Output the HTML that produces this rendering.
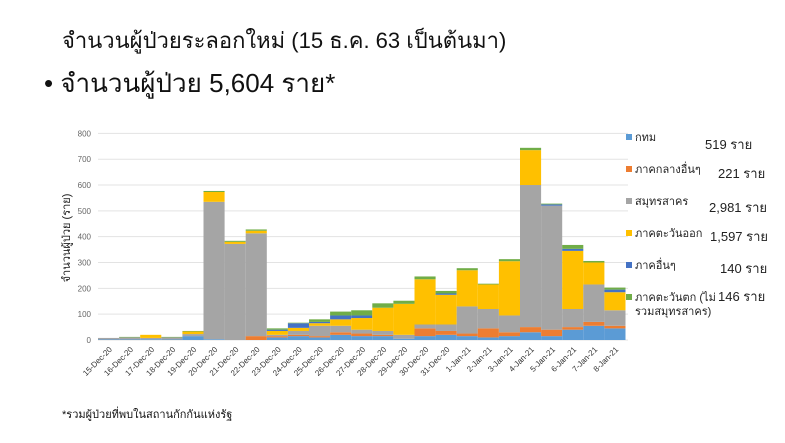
<!DOCTYPE html>
<html><head><meta charset="utf-8"><style>
body{margin:0;background:#fff;width:785px;height:438px;overflow:hidden;font-family:"Liberation Sans","DejaVu Sans",sans-serif;}
</style></head><body>
<svg id="s" width="785" height="438" xmlns="http://www.w3.org/2000/svg" font-family="Liberation Sans, DejaVu Sans, sans-serif">
<text x="62" y="48" font-size="22" fill="#111">จำนวนผู้ป่วยระลอกใหม่ (15 ธ.ค. 63 เป็นต้นมา)</text>
<text x="44" y="92" font-size="26" fill="#111">• จำนวนผู้ป่วย 5,604 ราย*</text>
<text transform="translate(70,238) rotate(-90)" font-size="11" fill="#222" text-anchor="middle">จำนวนผู้ป่วย (ราย)</text>
<text x="62" y="418" font-size="11" fill="#111">*รวมผู้ป่วยที่พบในสถานกักกันแห่งรัฐ</text>
<g id="g"></g>
<g font-size="11" fill="#222">
<rect x="626" y="134" width="6" height="6" fill="#5b9bd5"/><text x="635" y="141">กทม</text><text x="705" y="149" font-size="13">519 ราย</text>
<rect x="626" y="166" width="6" height="6" fill="#ed7d31"/><text x="635" y="173">ภาคกลางอื่นๆ</text><text x="718" y="178" font-size="13">221 ราย</text>
<rect x="626" y="198" width="6" height="6" fill="#a5a5a5"/><text x="635" y="205">สมุทรสาคร</text><text x="709" y="212" font-size="13">2,981 ราย</text>
<rect x="626" y="230" width="6" height="6" fill="#ffc000"/><text x="635" y="237">ภาคตะวันออก</text><text x="710" y="241" font-size="13">1,597 ราย</text>
<rect x="626" y="262" width="6" height="6" fill="#4472c4"/><text x="635" y="269">ภาคอื่นๆ</text><text x="720" y="273" font-size="13">140 ราย</text>
<rect x="626" y="294" width="6" height="6" fill="#70ad47"/><text x="635" y="301">ภาคตะวันตก (ไม่</text><text x="635" y="315">รวมสมุทรสาคร)</text><text x="718" y="301" font-size="13">146 ราย</text>
</g>
</svg>
<script>
var d=[[2,0,6,0,0,0],[2,0,8,0,0,2],[3,0,5,12,0,0],[2,0,8,0,0,2],[15,0,8,10,0,2],[3,0,532,38,0,4],[0,0,372,8,0,4],[0,15,398,10,0,5],[10,5,5,15,5,5],[15,5,15,12,18,2],[10,5,40,10,5,10],[20,10,25,25,15,15],[15,10,15,45,10,20],[15,5,15,90,0,17],[5,0,15,120,0,12],[15,30,15,175,0,11],[20,15,25,115,5,10],[15,10,105,140,0,8],[10,35,75,95,0,3],[15,15,65,210,0,8],[30,20,550,135,0,9],[15,25,480,0,5,3],[40,10,70,225,8,15],[55,15,145,85,0,6],[45,10,60,70,10,8]];
var c=["#5b9bd5","#ed7d31","#a5a5a5","#ffc000","#4472c4","#70ad47"];
var lab=["15-Dec-20","16-Dec-20","17-Dec-20","18-Dec-20","19-Dec-20","20-Dec-20","21-Dec-20","22-Dec-20","23-Dec-20","24-Dec-20","25-Dec-20","26-Dec-20","27-Dec-20","28-Dec-20","29-Dec-20","30-Dec-20","31-Dec-20","1-Jan-21","2-Jan-21","3-Jan-21","4-Jan-21","5-Jan-21","6-Jan-21","7-Jan-21","8-Jan-21"];
var h="",y0=340,k=0.2583,x0=98,w=21.1;
for(var i=0;i<=8;i++){var y=y0-i*100*k;h+='<line x1="98" x2="628" y1="'+y+'" y2="'+y+'" stroke="#e3e3e3"/><text x="91" y="'+(y+3)+'" font-size="8" fill="#666" text-anchor="end">'+(i*100)+'</text>';}
d.forEach(function(b,i){var y=y0,x=x0+i*w;b.forEach(function(v,j){if(!v)return;var hh=v*k;y-=hh;h+='<rect x="'+x+'" y="'+y+'" width="'+w+'" height="'+hh+'" fill="'+c[j]+'"/>';});
h+='<text transform="translate('+(x+w/2+4)+',350) rotate(-45)" font-size="8" fill="#333" text-anchor="end">'+lab[i]+'</text>';});
document.getElementById("g").innerHTML=h;
</script>
</body></html>
